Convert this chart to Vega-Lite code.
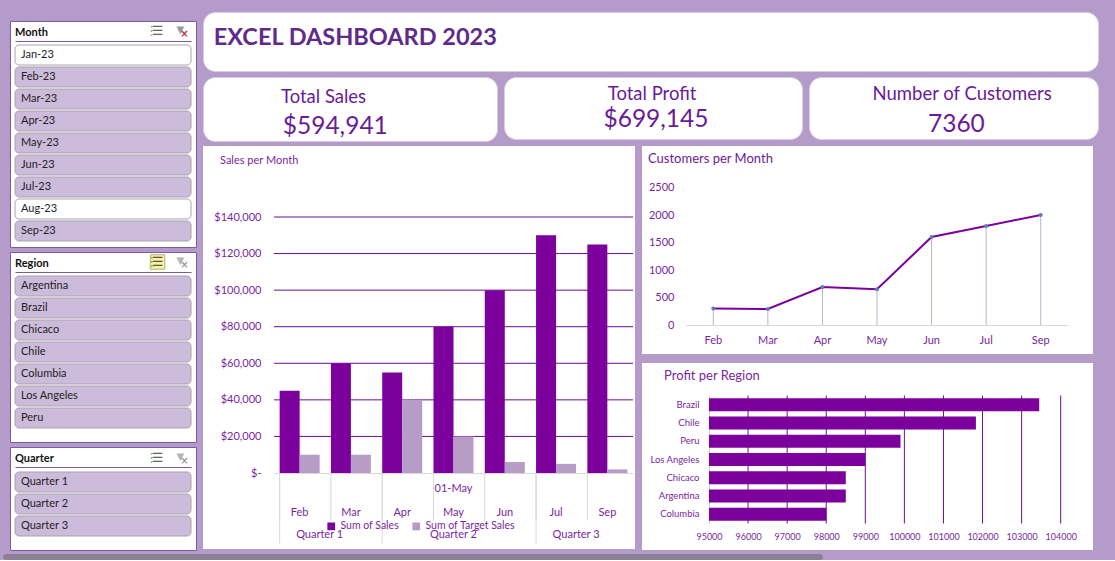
{"$schema":"https://vega.github.io/schema/vega-lite/v6.json","background":"#B59BC9","padding":{"left":2,"top":11,"right":17,"bottom":0},"spacing":2,"config":{"font":"Lato","view":{"stroke":null}},
"datasets":{"gridSales":[{"tick":20000},{"tick":40000},{"tick":60000},{"tick":80000},{"tick":100000},{"tick":120000},{"tick":140000}]},
"vconcat":[{"spacing":5,"hconcat":[
{"width":1,"height":4,"data":{"values":[{"i":1}]},"mark":{"type":"rule","opacity":0},"encoding":{}},
{"spacing":3,"vconcat":[
{"width":186,"height":5,"data":{"values":[{"i":1}]},"mark":{"type":"rule","opacity":0},"encoding":{}},
{"width":186,"height":226,"view":{"fill":"white","stroke":"#7b5aa6"},"title":{"text":"Month","anchor":"start","offset":-17,"dx":5,"fontSize":11,"fontWeight":"bold","color":"#111"},
"data":{"values":[{"item":"Jan-23","selected":"yes"},{"item":"Feb-23","selected":"no"},{"item":"Mar-23","selected":"no"},{"item":"Apr-23","selected":"no"},{"item":"May-23","selected":"no"},{"item":"Jun-23","selected":"no"},{"item":"Jul-23","selected":"no"},{"item":"Aug-23","selected":"yes"},{"item":"Sep-23","selected":"no"}]},
"layer":[
{"mark":{"type":"bar","cornerRadius":4,"stroke":"#a8a2ae","strokeWidth":1},"encoding":{"x":{"datum":0,"type":"quantitative","scale":{"domain":[0,1],"range":[5,181]},"axis":{"orient":"top","offset":-20,"labels":false,"ticks":false,"title":null,"grid":false,"domainColor":"#7b5aa6"}},"x2":{"datum":1},"y":{"field":"item","type":"nominal","sort":null,"scale":{"range":[23,221],"paddingInner":0.09,"paddingOuter":0.045},"axis":null},"fill":{"field":"selected","type":"nominal","scale":{"domain":["yes","no"],"range":["#ffffff","#CDBBDB"]},"legend":null}}},
{"mark":{"type":"text","align":"left","dx":6,"fontSize":11,"color":"#222"},"encoding":{"x":{"datum":0,"type":"quantitative"},"y":{"field":"item","type":"nominal","sort":null},"text":{"field":"item"}}},
{"data":{"values":[{"i":1}]},"mark":{"type":"text","font":"DejaVu Sans","fontSize":13,"dy":-24,"dx":-6,"color":"#5cb85c"},"encoding":{"x":{"datum":0.81,"type":"quantitative"},"y":{"datum":"Jan-23","type":"nominal"},"text":{"value":"⋮"}}},
{"data":{"values":[{"i":1}]},"mark":{"type":"text","font":"DejaVu Sans","fontSize":13,"dy":-24,"color":"#666"},"encoding":{"x":{"datum":0.81,"type":"quantitative"},"y":{"datum":"Jan-23","type":"nominal"},"text":{"value":"☰"}}},
{"data":{"values":[{"i":1}]},"mark":{"type":"text","font":"DejaVu Sans","fontSize":10,"dy":-25,"color":"#999"},"encoding":{"x":{"datum":0.94,"type":"quantitative"},"y":{"datum":"Jan-23","type":"nominal"},"text":{"value":"▼"}}},
{"data":{"values":[{"i":1}]},"mark":{"type":"text","font":"DejaVu Sans","fontSize":10,"fontWeight":"bold","dx":4,"dy":-21,"color":"#c0303a"},"encoding":{"x":{"datum":0.94,"type":"quantitative"},"y":{"datum":"Jan-23","type":"nominal"},"text":{"value":"×"}}}
]},
{"width":186,"height":190,"view":{"fill":"white","stroke":"#7b5aa6"},"title":{"text":"Region","anchor":"start","offset":-17,"dx":5,"fontSize":11,"fontWeight":"bold","color":"#111"},
"data":{"values":[{"item":"Argentina"},{"item":"Brazil"},{"item":"Chicaco"},{"item":"Chile"},{"item":"Columbia"},{"item":"Los Angeles"},{"item":"Peru"}]},
"layer":[
{"mark":{"type":"bar","cornerRadius":4,"stroke":"#a8a2ae","strokeWidth":1,"fill":"#CDBBDB"},"encoding":{"x":{"datum":0,"type":"quantitative","scale":{"domain":[0,1],"range":[5,181]},"axis":{"orient":"top","offset":-20,"labels":false,"ticks":false,"title":null,"grid":false,"domainColor":"#7b5aa6"}},"x2":{"datum":1},"y":{"field":"item","type":"nominal","sort":null,"scale":{"range":[23,177],"paddingInner":0.09,"paddingOuter":0.045},"axis":null}}},
{"mark":{"type":"text","align":"left","dx":6,"fontSize":11,"color":"#222"},"encoding":{"x":{"datum":0,"type":"quantitative"},"y":{"field":"item","type":"nominal","sort":null},"text":{"field":"item"}}},
{"data":{"values":[{"i":1}]},"mark":{"type":"square","size":210,"color":"#fbf2a0","stroke":"#b8b26a","strokeWidth":1,"opacity":1,"yOffset":-24},"encoding":{"x":{"datum":0.81,"type":"quantitative"},"y":{"datum":"Argentina","type":"nominal"}}},
{"data":{"values":[{"i":1}]},"mark":{"type":"text","font":"DejaVu Sans","fontSize":13,"dy":-24,"dx":-6,"color":"#5cb85c"},"encoding":{"x":{"datum":0.81,"type":"quantitative"},"y":{"datum":"Argentina","type":"nominal"},"text":{"value":"⋮"}}},
{"data":{"values":[{"i":1}]},"mark":{"type":"text","font":"DejaVu Sans","fontSize":13,"dy":-24,"color":"#555"},"encoding":{"x":{"datum":0.81,"type":"quantitative"},"y":{"datum":"Argentina","type":"nominal"},"text":{"value":"☰"}}},
{"data":{"values":[{"i":1}]},"mark":{"type":"text","font":"DejaVu Sans","fontSize":10,"dy":-25,"color":"#b5b5b5"},"encoding":{"x":{"datum":0.94,"type":"quantitative"},"y":{"datum":"Argentina","type":"nominal"},"text":{"value":"▼"}}},
{"data":{"values":[{"i":1}]},"mark":{"type":"text","font":"DejaVu Sans","fontSize":10,"fontWeight":"bold","dx":4,"dy":-21,"color":"#999"},"encoding":{"x":{"datum":0.94,"type":"quantitative"},"y":{"datum":"Argentina","type":"nominal"},"text":{"value":"×"}}}
]},
{"width":186,"height":103,"view":{"fill":"white","stroke":"#7b5aa6"},"title":{"text":"Quarter","anchor":"start","offset":-17,"dx":5,"fontSize":11,"fontWeight":"bold","color":"#111"},
"data":{"values":[{"item":"Quarter 1"},{"item":"Quarter 2"},{"item":"Quarter 3"}]},
"layer":[
{"mark":{"type":"bar","cornerRadius":4,"stroke":"#a8a2ae","strokeWidth":1,"fill":"#CDBBDB"},"encoding":{"x":{"datum":0,"type":"quantitative","scale":{"domain":[0,1],"range":[5,181]},"axis":{"orient":"top","offset":-20,"labels":false,"ticks":false,"title":null,"grid":false,"domainColor":"#7b5aa6"}},"x2":{"datum":1},"y":{"field":"item","type":"nominal","sort":null,"scale":{"range":[24,90],"paddingInner":0.09,"paddingOuter":0.045},"axis":null}}},
{"mark":{"type":"text","align":"left","dx":6,"fontSize":11,"color":"#222"},"encoding":{"x":{"datum":0,"type":"quantitative"},"y":{"field":"item","type":"nominal","sort":null},"text":{"field":"item"}}},
{"data":{"values":[{"i":1}]},"mark":{"type":"text","font":"DejaVu Sans","fontSize":13,"dy":-24,"dx":-6,"color":"#5cb85c"},"encoding":{"x":{"datum":0.81,"type":"quantitative"},"y":{"datum":"Quarter 1","type":"nominal"},"text":{"value":"⋮"}}},
{"data":{"values":[{"i":1}]},"mark":{"type":"text","font":"DejaVu Sans","fontSize":13,"dy":-24,"color":"#666"},"encoding":{"x":{"datum":0.81,"type":"quantitative"},"y":{"datum":"Quarter 1","type":"nominal"},"text":{"value":"☰"}}},
{"data":{"values":[{"i":1}]},"mark":{"type":"text","font":"DejaVu Sans","fontSize":10,"dy":-25,"color":"#b5b5b5"},"encoding":{"x":{"datum":0.94,"type":"quantitative"},"y":{"datum":"Quarter 1","type":"nominal"},"text":{"value":"▼"}}},
{"data":{"values":[{"i":1}]},"mark":{"type":"text","font":"DejaVu Sans","fontSize":10,"fontWeight":"bold","dx":4,"dy":-21,"color":"#999"},"encoding":{"x":{"datum":0.94,"type":"quantitative"},"y":{"datum":"Quarter 1","type":"nominal"},"text":{"value":"×"}}}
]}
]},
{"spacing":4,"vconcat":[
{"width":895,"height":59,"view":{"fill":"white","cornerRadius":12,"stroke":"#d8cce2"},"data":{"values":[{"t":"EXCEL DASHBOARD 2023"}]},"mark":{"type":"text","align":"left","fontSize":23.5,"fontWeight":"bold","color":"#5F2A8C"},"encoding":{"x":{"datum":0.012,"type":"quantitative","scale":{"domain":[0,1]},"axis":null},"y":{"datum":0.56,"type":"quantitative","scale":{"domain":[0,1]},"axis":null},"text":{"field":"t"}}},
{"spacing":5,"hconcat":[
{"width":294,"height":64,"view":{"fill":"white","cornerRadius":12,"stroke":"#d8cce2"},"data":{"values":[{"label":"Total Sales","amount":594941}]},"layer":[
{"mark":{"type":"text","fontSize":18.5,"color":"#6A1B9A"},"encoding":{"x":{"datum":0.41,"type":"quantitative","scale":{"domain":[0,1]},"axis":null},"y":{"datum":0.69,"type":"quantitative","scale":{"domain":[0,1]},"axis":null},"text":{"field":"label"}}},
{"mark":{"type":"text","fontSize":24.5,"color":"#6A1B9A"},"encoding":{"x":{"datum":0.45,"type":"quantitative"},"y":{"datum":0.22,"type":"quantitative"},"text":{"field":"amount","format":"$,.0f"}}}]},
{"width":298,"height":62,"view":{"fill":"white","cornerRadius":12,"stroke":"#d8cce2"},"data":{"values":[{"label":"Total Profit","amount":699145}]},"layer":[
{"mark":{"type":"text","fontSize":18.5,"color":"#6A1B9A"},"encoding":{"x":{"datum":0.497,"type":"quantitative","scale":{"domain":[0,1]},"axis":null},"y":{"datum":0.73,"type":"quantitative","scale":{"domain":[0,1]},"axis":null},"text":{"field":"label"}}},
{"mark":{"type":"text","fontSize":24.5,"color":"#6A1B9A"},"encoding":{"x":{"datum":0.51,"type":"quantitative"},"y":{"datum":0.31,"type":"quantitative"},"text":{"field":"amount","format":"$,.0f"}}}]},
{"width":289,"height":62,"view":{"fill":"white","cornerRadius":12,"stroke":"#d8cce2"},"data":{"values":[{"label":"Number of Customers","amount":7360}]},"layer":[
{"mark":{"type":"text","fontSize":18.5,"color":"#6A1B9A"},"encoding":{"x":{"datum":0.53,"type":"quantitative","scale":{"domain":[0,1]},"axis":null},"y":{"datum":0.73,"type":"quantitative","scale":{"domain":[0,1]},"axis":null},"text":{"field":"label"}}},
{"mark":{"type":"text","fontSize":24.5,"color":"#6A1B9A"},"encoding":{"x":{"datum":0.51,"type":"quantitative"},"y":{"datum":0.23,"type":"quantitative"},"text":{"field":"amount","format":"d"}}}]}
]},
{"spacing":7,"hconcat":[
{"width":432,"height":403,"view":{"fill":"white"},"title":{"text":"Sales per Month","anchor":"start","offset":-20,"dx":17,"fontSize":11,"fontWeight":"normal","color":"#7A1FA2"},
"data":{"values":[{"month":"Feb","series":"Sum of Sales","amount":45000},{"month":"Feb","series":"Sum of Target Sales","amount":10000},{"month":"Mar","series":"Sum of Sales","amount":60000},{"month":"Mar","series":"Sum of Target Sales","amount":10000},{"month":"Apr","series":"Sum of Sales","amount":55000},{"month":"Apr","series":"Sum of Target Sales","amount":40000},{"month":"May","series":"Sum of Sales","amount":80000},{"month":"May","series":"Sum of Target Sales","amount":20000},{"month":"Jun","series":"Sum of Sales","amount":100000},{"month":"Jun","series":"Sum of Target Sales","amount":6000},{"month":"Jul","series":"Sum of Sales","amount":130000},{"month":"Jul","series":"Sum of Target Sales","amount":5000},{"month":"Sep","series":"Sum of Sales","amount":125000},{"month":"Sep","series":"Sum of Target Sales","amount":2000}]},
"resolve":{"scale":{"x":"independent"}},
"layer":[
{"data":{"name":"gridSales"},"mark":{"type":"rule","color":"#6A0F8E","strokeWidth":1},"encoding":{"x":{"datum":0,"type":"quantitative","scale":{"domain":[0,1],"range":[71,430]},"axis":null},"x2":{"datum":1},"y":{"field":"tick","type":"quantitative","scale":{"domain":[0,140000],"range":[327,71],"nice":false},"axis":{"values":[0,20000,40000,60000,80000,100000,120000,140000],"offset":-71,"labelPadding":13,"ticks":false,"domain":false,"grid":false,"title":null,"labelFontSize":11,"labelColor":"#7A1FA2","labelExpr":"datum.value===0?'$-':format(datum.value,'$,.0f')"}}}},
{"mark":{"type":"bar"},"encoding":{"x":{"field":"month","type":"nominal","sort":null,"scale":{"type":"band","domain":["Feb","Mar","Apr","May","Jun","Jul","Sep"],"range":[71,430],"paddingInner":0.22,"paddingOuter":0.11},"axis":{"title":null,"orient":"bottom","offset":-76,"labelAngle":0,"ticks":false,"labelPadding":33,"labelFontSize":11,"labelColor":"#7A1FA2","domainColor":"#d9d9d9","grid":false}},"xOffset":{"field":"series","type":"nominal","sort":null},"y":{"field":"amount","type":"quantitative"},"color":{"field":"series","type":"nominal","sort":null,"scale":{"domain":["Sum of Sales","Sum of Target Sales"],"range":["#7C009C","#B79CC8"]},"legend":{"orient":"none","legendX":323,"legendY":509,"direction":"horizontal","title":null,"symbolType":"square","symbolSize":60,"labelFontSize":10.5,"labelColor":"#7A1FA2","columns":2,"columnPadding":12}}}},
{"data":{"values":[{"month":"Feb"},{"month":"Mar"},{"month":"Apr"},{"month":"May"},{"month":"Jun"},{"month":"Jul"},{"month":"Sep"}]},"mark":{"type":"rule","color":"#d9d9d9"},"encoding":{"x":{"field":"month","type":"nominal","sort":null,"bandPosition":0,"scale":{"type":"band","domain":["Feb","Mar","Apr","May","Jun","Jul","Sep"],"range":[71,430],"paddingInner":0.22,"paddingOuter":0.11},"axis":null},"y":{"datum":0,"type":"quantitative"},"y2":{"datum":-26000}}},
{"data":{"values":[{"month":"Feb"},{"month":"Apr"},{"month":"Jul"}]},"mark":{"type":"rule","color":"#d9d9d9"},"encoding":{"x":{"field":"month","type":"nominal","bandPosition":0,"scale":{"type":"band","domain":["Feb","Mar","Apr","May","Jun","Jul","Sep"],"range":[71,430],"paddingInner":0.22,"paddingOuter":0.11},"axis":null},"y":{"datum":0,"type":"quantitative"},"y2":{"datum":-38500}}},
{"data":{"values":[{"label":"01-May","month":"May"}]},"mark":{"type":"text","fontSize":11,"color":"#7A1FA2"},"encoding":{"x":{"field":"month","type":"nominal","scale":{"type":"band","domain":["Feb","Mar","Apr","May","Jun","Jul","Sep"],"range":[71,430],"paddingInner":0.22,"paddingOuter":0.11},"axis":null},"y":{"datum":-9000,"type":"quantitative"},"text":{"field":"label"}}},
{"data":{"values":[{"label":"Quarter 1","month":"Feb"},{"label":"Quarter 3","month":"Jul"}]},"mark":{"type":"text","fontSize":11,"color":"#7A1FA2"},"encoding":{"x":{"field":"month","type":"nominal","bandPosition":1,"scale":{"type":"band","domain":["Feb","Mar","Apr","May","Jun","Jul","Sep"],"range":[71,430],"paddingInner":0.22,"paddingOuter":0.11},"axis":null},"y":{"datum":-34000,"type":"quantitative"},"text":{"field":"label"}}},
{"data":{"values":[{"label":"Quarter 2","month":"May"}]},"mark":{"type":"text","fontSize":11,"color":"#7A1FA2"},"encoding":{"x":{"field":"month","type":"nominal","scale":{"type":"band","domain":["Feb","Mar","Apr","May","Jun","Jul","Sep"],"range":[71,430],"paddingInner":0.22,"paddingOuter":0.11},"axis":null},"y":{"datum":-34000,"type":"quantitative"},"text":{"field":"label"}}}
]},
{"spacing":9,"vconcat":[
{"width":451,"height":208,"view":{"fill":"white"},"title":{"text":"Customers per Month","anchor":"start","offset":-20,"dx":6,"fontSize":13,"fontWeight":"normal","color":"#6A1B9A"},
"data":{"values":[{"month":"Feb","customers":300},{"month":"Mar","customers":290},{"month":"Apr","customers":690},{"month":"May","customers":650},{"month":"Jun","customers":1600},{"month":"Jul","customers":1800},{"month":"Sep","customers":2000}]},
"encoding":{"x":{"field":"month","type":"nominal","sort":null,"scale":{"type":"band","range":[44,426],"paddingInner":0,"paddingOuter":0},"axis":{"title":null,"orient":"bottom","offset":-29,"labelAngle":0,"ticks":false,"labelPadding":9,"labelFontSize":11,"labelColor":"#7A1FA2","domainColor":"#d9d9d9","grid":false}},"y":{"field":"customers","type":"quantitative","scale":{"domain":[0,2500],"range":[179,41.5],"nice":false},"axis":{"values":[0,500,1000,1500,2000,2500],"format":"d","offset":-44,"labelPadding":12,"ticks":false,"domain":false,"grid":false,"title":null,"labelFontSize":11,"labelColor":"#7A1FA2"}}},
"layer":[
{"mark":{"type":"rule","color":"#BDB0CF"},"encoding":{"y2":{"datum":0}}},
{"mark":{"type":"line","color":"#7C009C","strokeWidth":2},"encoding":{}},
{"mark":{"type":"circle","size":16,"color":"#5B7FB5","opacity":1},"encoding":{}}
]},
{"width":451,"height":187,"view":{"fill":"white"},"title":{"text":"Profit per Region","anchor":"start","offset":-20,"dx":22,"fontSize":13,"fontWeight":"normal","color":"#7A1FA2"},
"data":{"values":[{"region":"Brazil","profit":103450},{"region":"Chile","profit":101830},{"region":"Peru","profit":99900},{"region":"Los Angeles","profit":99000},{"region":"Chicaco","profit":98500},{"region":"Argentina","profit":98500},{"region":"Columbia","profit":98000}]},
"resolve":{"scale":{"y":"independent"}},
"layer":[
{"data":{"values":[{"tick":96000},{"tick":97000},{"tick":98000},{"tick":99000},{"tick":100000},{"tick":101000},{"tick":102000},{"tick":103000},{"tick":104000}]},"mark":{"type":"rule","color":"#6A0F8E","strokeWidth":1},"encoding":{"x":{"field":"tick","type":"quantitative","scale":{"domain":[95000,104000],"range":[67,418.7],"nice":false,"zero":false},"axis":{"values":[95000,96000,97000,98000,99000,100000,101000,102000,103000,104000],"format":"d","labelOverlap":false,"labelFlush":false,"offset":-27,"labelPadding":9,"ticks":false,"domain":false,"grid":false,"title":null,"labelFontSize":9,"labelColor":"#7A1FA2"}},"y":{"datum":0,"type":"quantitative","scale":{"domain":[0,1],"range":[160.5,32.5]},"axis":null},"y2":{"datum":1}}},
{"mark":{"type":"bar","color":"#7C009C"},"encoding":{"x":{"field":"profit","type":"quantitative"},"x2":{"datum":95000},"y":{"field":"region","type":"nominal","sort":null,"scale":{"type":"band","range":[32.5,160.5],"paddingInner":0.29,"paddingOuter":0.145},"axis":{"title":null,"offset":-67,"labelPadding":10,"ticks":false,"domainColor":"#d0d0d0","grid":false,"labelFontSize":9.5,"labelColor":"#7A1FA2"}}}}
]}
]}
]}
]}
]},
{"width":820,"height":6,"view":{"fill":"#8B8094","cornerRadius":3},"data":{"values":[{"i":1}]},"mark":{"type":"rule","opacity":0},"encoding":{}}
]}
